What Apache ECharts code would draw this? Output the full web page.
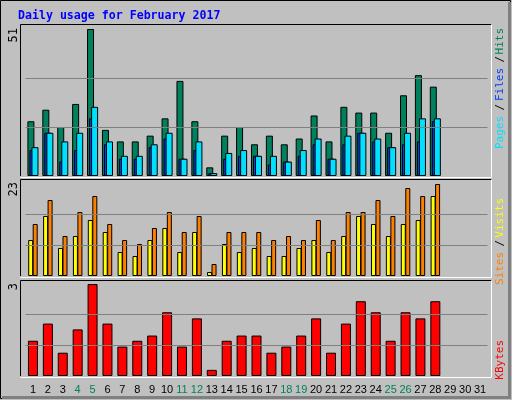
<!DOCTYPE html>
<html>
<head>
<meta charset="utf-8">
<script src="https://cdn.jsdelivr.net/npm/echarts@6/dist/echarts.min.js"></script>
<style>
  html, body { margin: 0; padding: 0; background: #c0c0c0; }
  #chart { width: 512px; height: 400px; }
</style>
</head>
<body>
<div id="chart"></div>
<script>
const days = ['1','2','3','4','5','6','7','8','9','10','11','12','13','14','15','16','17','18','19','20','21','22','23','24','25','26','27','28','29','30','31'];
const weekend = ['4','5','11','12','18','19','25','26'];
const hits  = [19,23,17,25,51,16,12,12,14,20,33,19,3,14,17,11,14,11,13,21,12,24,22,22,15,28,35,31];
const files = [9,15,5,9,20,11,6,6,10,13,6,9,1,6,7,7,4,5,7,11,6,11,15,12,10,11,12,19];
const pages = [10,15,12,15,24,12,7,7,11,15,6,12,1,8,9,7,7,5,9,13,6,14,15,13,10,15,20,20];
const visits = [13,19,10,16,20,13,9,8,12,16,11,15,3,11,11,11,9,10,9,14,9,16,16,19,15,22,20,23];
const sites  = [9,15,7,10,14,11,6,5,9,12,6,11,1,8,6,7,5,5,7,9,6,10,15,13,10,13,14,20];
const kbytes = [1.15,1.71,0.76,1.52,3.0,1.71,0.96,1.15,1.32,2.08,0.96,1.88,0.2,1.15,1.32,1.32,0.76,0.96,1.32,1.88,0.76,1.71,2.44,2.08,1.15,2.08,1.88,2.44];

const chart = echarts.init(document.getElementById('chart'));
const panels = [
  { top: 25, height: 151, max: 51 * 151 / 147, lines: [17, 34] },
  { top: 180, height: 96, max: 24, lines: [23 / 3, 46 / 3] },
  { top: 281, height: 95, max: 3.1, lines: [1, 2] }
];
const L = 25.5, R = 24.5;

function gridLines(p) {
  return {
    silent: true, symbol: 'none', label: { show: false },
    lineStyle: { color: '#808080', type: 'solid', width: 1 },
    data: p.lines.map(v => ({ yAxis: v }))
  };
}
function bar(name, data, idx, color, width, gap, extra) {
  return Object.assign({
    name, type: 'bar', data, xAxisIndex: idx, yAxisIndex: idx,
    barWidth: width, barGap: gap, animation: false,
    itemStyle: { color, borderColor: '#000', borderWidth: 1 }
  }, extra || {});
}
function vtext(x, y, parts, font) {
  // rotated text reading bottom-to-top, starting at y going down
  const g = [];
  let yy = y;
  parts.forEach(([t, c, w]) => {
    g.push({ type: 'text', x, y: yy, rotation: Math.PI / 2, z: 10,
      style: { text: t, fill: c, font, align: 'right', verticalAlign: 'middle' } });
    yy += w;
  });
  return g;
}
const mono = '11px "DejaVu Sans Mono"';

chart.setOption({
  backgroundColor: '#c0c0c0',
  animation: false,
  grid: panels.map(p => ({ left: L, right: R, top: p.top, height: p.height, show: false })),
  xAxis: panels.map((p, i) => ({
    type: 'category', data: days, gridIndex: i,
    axisLine: { show: false }, axisTick: { show: false },
    axisLabel: i === 2 ? {
      show: true, margin: 8, interval: 0, fontFamily: 'Liberation Sans', fontSize: 11,
      color: (v) => weekend.includes(v) ? '#00805c' : '#000'
    } : { show: false }
  })),
  yAxis: panels.map((p, i) => ({
    type: 'value', gridIndex: i, min: 0, max: p.max,
    axisLine: { show: false }, axisTick: { show: false }, axisLabel: { show: false },
    splitLine: { show: false }
  })),
  series: [
    bar('Hits', hits, 0, '#00805c', 7, '-71%', { markLine: gridLines(panels[0]) }),
    bar('Files', files, 0, '#0040ff', 7, '-71%'),
    bar('Pages', pages, 0, '#00e0ff', 7, '-71%'),
    bar('Sites', sites, 1, '#ffff00', 5, '-10%', { markLine: gridLines(panels[1]) }),
    bar('Visits', visits, 1, '#ff8000', 5, '-10%'),
    bar('KBytes', kbytes, 2, '#ff0000', 10, '0%', { markLine: gridLines(panels[2]) })
  ],
  graphic: [
    { type: 'rect', shape: { x: 0.5, y: 0.5, width: 510, height: 398 }, z: -1,
      style: { fill: '#c0c0c0', stroke: '#000', lineWidth: 1 } },
    { type: 'polyline', shape: { points: [[509.5, 2], [509.5, 397.5], [2, 397.5]] }, z: 0,
      style: { stroke: '#808080', lineWidth: 3, fill: null } },
    ...panels.map(p => ({ type: 'polyline', z: 5,
      shape: { points: [[20.5, p.top + p.height], [20.5, p.top - 0.5], [491.5, p.top - 0.5]] },
      style: { stroke: '#000', lineWidth: 1, fill: null } })),
    ...panels.map(p => ({ type: 'polyline', z: 5,
      shape: { points: [[491.5, p.top - 0.5], [491.5, p.top + p.height + 1.5], [20.5, p.top + p.height + 1.5]] },
      style: { stroke: '#fff', lineWidth: 1, fill: null } })),
    { type: 'text', x: 18, y: 16, z: 10,
      style: { text: 'Daily usage for February 2017', fill: '#0000ff',
        font: 'bold 11.6px "DejaVu Sans Mono"', verticalAlign: 'middle' } },
    ...vtext(14, 28, [['51', '#000', 0]], '12px "DejaVu Sans Mono"'),
    ...vtext(14, 182, [['23', '#000', 0]], '12px "DejaVu Sans Mono"'),
    ...vtext(14, 283, [['3', '#000', 0]], '12px "DejaVu Sans Mono"'),
    ...vtext(500, 28, [['Hits', '#00805c', 28], ['/', '#000', 12], ['Files', '#0040ff', 36], ['/', '#000', 12], ['Pages', '#00e0ff', 0]], mono),
    ...vtext(500, 198, [['Visits', '#ffff00', 42], ['/', '#000', 12], ['Sites', '#ff8000', 0]], mono),
    ...vtext(500, 340, [['KBytes', '#ff0000', 0]], mono)
  ]
});
</script>
</body>
</html>
